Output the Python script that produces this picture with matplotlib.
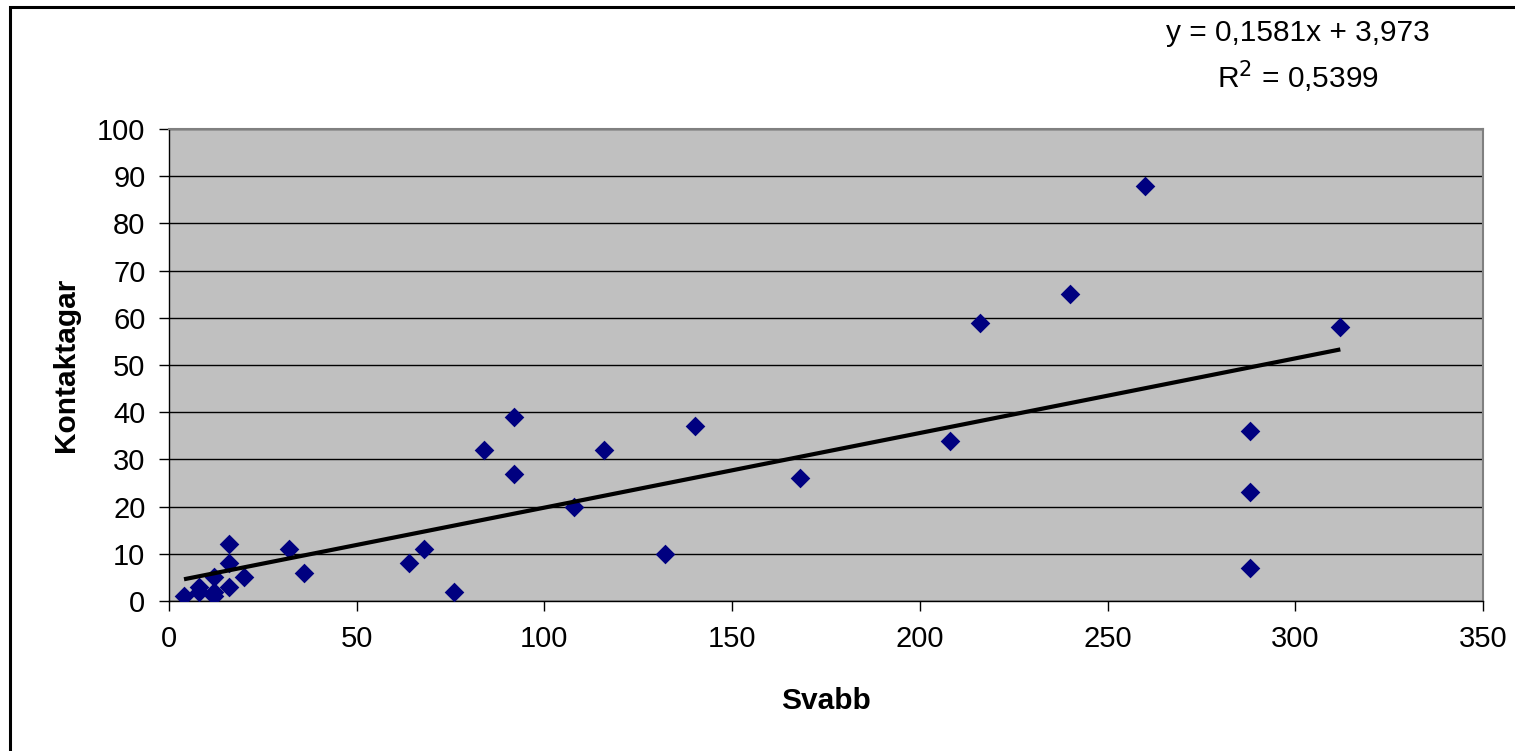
import matplotlib
matplotlib.use("Agg")
import matplotlib.pyplot as plt
from matplotlib.patches import Rectangle
import numpy as np

plt.rcParams['font.family'] = ['Liberation Sans', 'DejaVu Sans']

svabb = [4, 8, 8, 12, 12, 12, 16, 16, 16, 20, 32, 36, 64, 68, 76,
         84, 92, 92, 108, 116, 132, 140, 168, 208, 216, 240, 260, 288, 288, 288, 312]
kontaktagar = [1, 3, 2, 5, 2, 1, 12, 8, 3, 5, 11, 6, 8, 11, 2,
               32, 39, 27, 20, 32, 10, 37, 26, 34, 59, 65, 88, 36, 23, 7, 58]
slope = 0.1581
intercept = 3.973
x_ticks = [0, 50, 100, 150, 200, 250, 300, 350]
y_ticks = [0, 10, 20, 30, 40, 50, 60, 70, 80, 90, 100]
eq_text = 'y = 0,1581x + 3,973'
r2_text = r'R$^2$ = 0,5399'

W, H = 1515, 751
fig = plt.figure(figsize=(W / 100, H / 100), dpi=100)
fig.patch.set_facecolor('white')

# outer chart frame
fig.patches.append(Rectangle((10 / W, -0.05), 1.2, 1 - 7 / H + 0.05,
                             transform=fig.transFigure, fill=False,
                             edgecolor='black', linewidth=2.2))

ax = fig.add_axes([169 / W, 1 - 601 / H, (1483 - 169) / W, (601 - 129) / H])
ax.set_facecolor('#C0C0C0')
ax.set_xlim(0, 350)
ax.set_ylim(0, 100)
ax.set_xticks(x_ticks)
ax.set_yticks(y_ticks)
ax.yaxis.grid(True, color='black', linewidth=1.0)
ax.set_axisbelow(True)
for s in ['top', 'right']:
    ax.spines[s].set_color('#808080')
    ax.spines[s].set_linewidth(1.5)
for s in ['left', 'bottom']:
    ax.spines[s].set_color('black')
    ax.spines[s].set_linewidth(1.0)
ax.tick_params(direction='out', length=7, width=1, labelsize=21)
ax.tick_params(axis='y', pad=10)
ax.tick_params(axis='x', pad=10)

ax.scatter(svabb, kontaktagar, marker='D', s=100, color='#000080', zorder=3,
           linewidths=0)
xs = np.array([min(svabb), max(svabb)])
ax.plot(xs, slope * xs + intercept, color='black', linewidth=3, zorder=4,
        solid_capstyle='butt')

ax.set_xlabel('Svabb', fontsize=21.5, fontweight='bold', labelpad=25)
ax.set_ylabel('Kontaktagar', fontsize=21.5, fontweight='bold', labelpad=12.5)

fig.text(1298 / W, 1 - 33 / H, eq_text, ha='center', va='center', fontsize=21.5)
fig.text(1298 / W, 1 - 77 / H, r2_text, ha='center', va='center', fontsize=21.5)

fig.savefig('out.png', dpi=100)
